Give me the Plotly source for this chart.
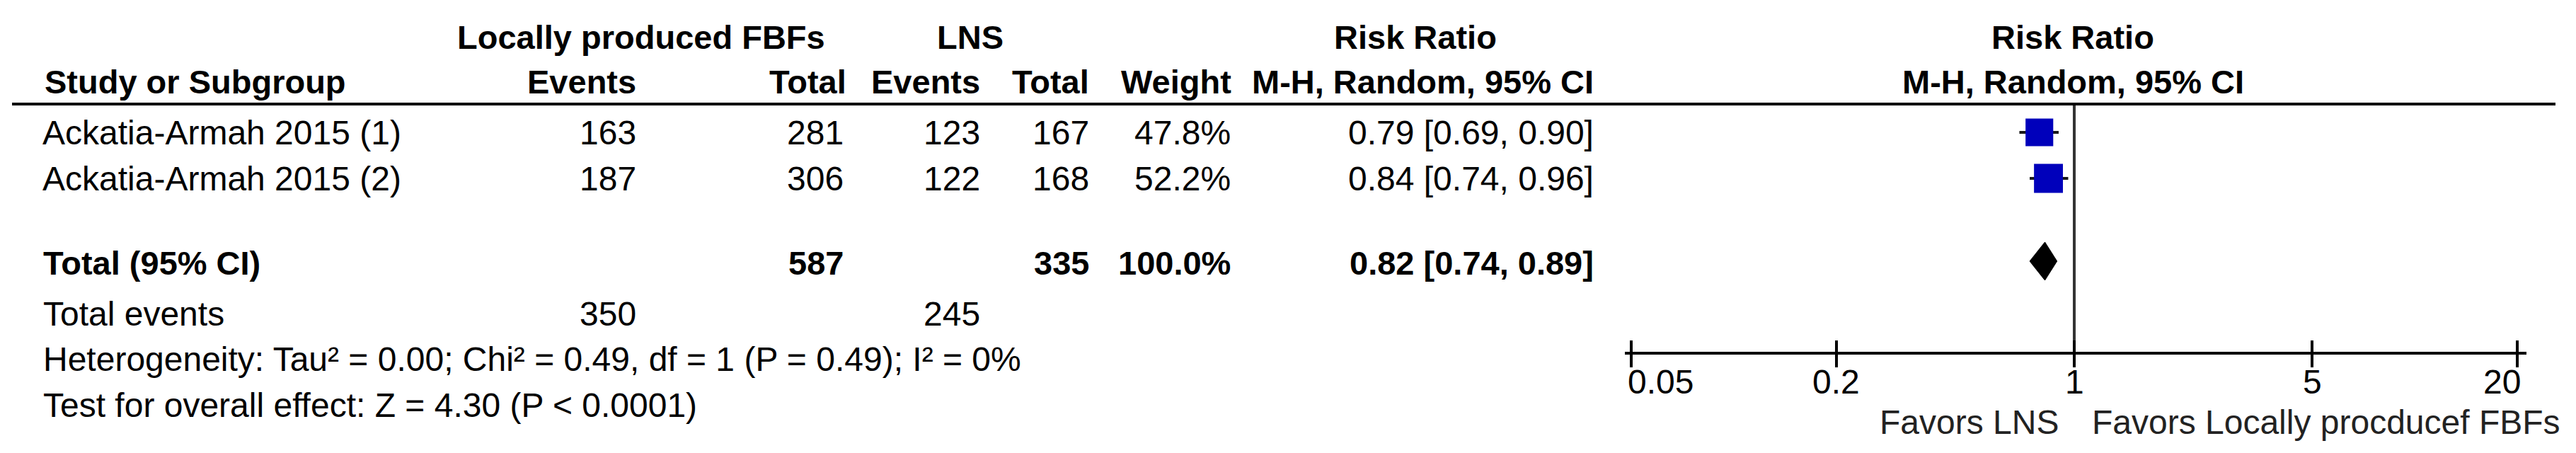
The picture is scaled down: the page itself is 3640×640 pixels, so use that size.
import numpy as np
import plotly.graph_objects as go

# ---------------- data ----------------
studies = ["Ackatia-Armah 2015 (1)", "Ackatia-Armah 2015 (2)"]
exp_events = [163, 187]
exp_total = [281, 306]
ctl_events = [123, 122]
ctl_total = [167, 168]
weights = [47.8, 52.2]
rr = [0.79, 0.84]
ci_low = [0.69, 0.74]
ci_high = [0.90, 0.96]

total_label = "Total (95% CI)"
total_exp = 587
total_ctl = 335
total_weight = 100.0
total_rr = 0.82
total_low = 0.74
total_high = 0.89

events_label = "Total events"
events_exp = 350
events_ctl = 245

heterogeneity = "Heterogeneity: Tau² = 0.00; Chi² = 0.49, df = 1 (P = 0.49); I² = 0%"
overall = "Test for overall effect: Z = 4.30 (P < 0.0001)"

exp_group = "Locally produced FBFs"
ctl_group = "LNS"
col_headers = ["Study or Subgroup", "Events", "Total", "Events", "Total", "Weight", "M-H, Random, 95% CI"]
measure = "Risk Ratio"
method = "M-H, Random, 95% CI"

tick_vals = [0.05, 0.2, 1, 5, 20]
tick_text = ["0.05", "0.2", "1", "5", "20"]
favors_left = "Favors LNS"
favors_right = "Favors Locally procducef FBFs"

# ---------------- layout constants (pixels) ----------------
W, H = 3640, 640
FONT = "Arial, Liberation Sans, sans-serif"
FS = 48      # regular text
FSB = 47     # bold text
TXT = "#000000"

# x positions (px) of table columns
X_STUDY = 58
X_EXP_EV = 901
X_EXP_TOT = 1194
X_CTL_EV = 1387
X_CTL_TOT = 1541
X_WEIGHT = 1741
X_CI = 2254
X_GRP_EXP = 906
X_GRP_CTL = 1371
X_RR_HEAD = 2000
X_PLOT_HEAD = 2929

# y positions (px from top)
Y_HEAD1 = 52
Y_HEAD2 = 115
Y_RULE = 147
Y_ROW0 = 187
ROW_GAP = 65
Y_TOTAL = 371
Y_EVENTS = 443
Y_HET = 507
Y_TEST = 572
Y_AXIS = 499
Y_TICKLBL = 539
Y_FAVORS = 596

# axis pixel geometry
AX_LEFT, AX_RIGHT = 2296, 3570
TICK_LO_PX, TICK_HI_PX = 2305, 3557
px_per_dec = (TICK_HI_PX - TICK_LO_PX) / (np.log10(tick_vals[-1]) - np.log10(tick_vals[0]))
x_range = [np.log10(tick_vals[0]) - (TICK_LO_PX - AX_LEFT) / px_per_dec,
           np.log10(tick_vals[-1]) + (AX_RIGHT - TICK_HI_PX) / px_per_dec]
x_domain = [AX_LEFT / W, AX_RIGHT / W]
axis_pos = (H - Y_AXIS) / H

fig = go.Figure()

row_y = [Y_ROW0 + i * ROW_GAP for i in range(len(studies))]

# vertical line of no effect
fig.add_trace(go.Scatter(x=[1, 1], y=[Y_RULE, Y_AXIS], mode="lines",
                         line=dict(color="#333333", width=4),
                         xaxis="x2", yaxis="y", hoverinfo="skip"))

# CI lines
for i in range(len(studies)):
    fig.add_trace(go.Scatter(x=[ci_low[i], ci_high[i]], y=[row_y[i], row_y[i]],
                             mode="lines", line=dict(color="#1a1a1a", width=4),
                             hoverinfo="skip"))

# squares sized by weight
sizes = [40 * np.sqrt(w / 50.0) for w in weights]
fig.add_trace(go.Scatter(x=rr, y=row_y, mode="markers",
                         marker=dict(symbol="square", size=sizes, color="#0000BB",
                                     opacity=1, line=dict(width=0)),
                         hoverinfo="skip"))

# diamond
DH = 27
yc = Y_TOTAL - 2
fig.add_trace(go.Scatter(x=[total_low, total_rr, total_high, total_rr, total_low],
                         y=[yc, yc - DH, yc, yc + DH, yc],
                         mode="lines", fill="toself", fillcolor="#000000",
                         line=dict(color="#000000", width=1), hoverinfo="skip"))

ann = []


def txt(x, y, s, anchor="left", bold=False, color=TXT, xref="paper", xshift=0):
    ann.append(dict(x=(x / W) if xref == "paper" else x, y=y, xref=xref, yref="y",
                    text=("<b>%s</b>" % s) if bold else s, showarrow=False,
                    xanchor=anchor, yanchor="middle", xshift=xshift,
                    font=dict(family=FONT, size=FSB if bold else FS, color=color)))


# headers
txt(X_GRP_EXP, Y_HEAD1, exp_group, "center", True)
txt(X_GRP_CTL, Y_HEAD1, ctl_group, "center", True)
txt(X_RR_HEAD, Y_HEAD1, measure, "center", True)
txt(X_PLOT_HEAD, Y_HEAD1, measure, "center", True)
txt(X_STUDY + 3, Y_HEAD2, col_headers[0], "left", True)
for xx, h in zip([X_EXP_EV, X_EXP_TOT + 4, X_CTL_EV, X_CTL_TOT, X_WEIGHT + 1, X_CI],
                 col_headers[1:]):
    txt(xx, Y_HEAD2, h, "right", True)
txt(X_PLOT_HEAD, Y_HEAD2, method, "center", True)

# study rows
for i, s in enumerate(studies):
    y = row_y[i]
    txt(X_STUDY, y, s, "left")
    txt(X_EXP_EV, y, str(exp_events[i]), "right")
    txt(X_EXP_TOT, y, str(exp_total[i]), "right")
    txt(X_CTL_EV, y, str(ctl_events[i]), "right")
    txt(X_CTL_TOT, y, str(ctl_total[i]), "right")
    txt(X_WEIGHT, y, "%.1f%%" % weights[i], "right")
    txt(X_CI, y, "%.2f [%.2f, %.2f]" % (rr[i], ci_low[i], ci_high[i]), "right")

# total row
txt(X_STUDY + 1, Y_TOTAL, total_label, "left", True)
txt(X_EXP_TOT, Y_TOTAL, str(total_exp), "right", True)
txt(X_CTL_TOT, Y_TOTAL, str(total_ctl), "right", True)
txt(X_WEIGHT, Y_TOTAL, "%.1f%%" % total_weight, "right", True)
txt(X_CI, Y_TOTAL, "%.2f [%.2f, %.2f]" % (total_rr, total_low, total_high), "right", True)

# total events
txt(X_STUDY + 1, Y_EVENTS, events_label, "left")
txt(X_EXP_EV, Y_EVENTS, str(events_exp), "right")
txt(X_CTL_EV, Y_EVENTS, str(events_ctl), "right")

# stats
txt(X_STUDY + 1, Y_HET, heterogeneity, "left")
txt(X_STUDY + 1, Y_TEST, overall, "left")

# tick labels (end labels aligned inward, as in the reference)
for k, (v, t) in enumerate(zip(tick_vals, tick_text)):
    if k == 0:
        a, sh = "left", -7
    elif k == len(tick_vals) - 1:
        a, sh = "right", 7
    else:
        a, sh = "center", 0
    txt(np.log10(v), Y_TICKLBL, t, a, xref="x", xshift=sh)

# favors labels
txt(0, Y_FAVORS, favors_left, "right", xref="x", xshift=-20, color="#222222")
txt(0, Y_FAVORS, favors_right, "left", xref="x", xshift=23, color="#222222")

# header rule
shapes = [dict(type="line", xref="paper", yref="y", x0=17 / W, x1=3611 / W,
               y0=Y_RULE, y1=Y_RULE, line=dict(color="#000000", width=4))]

axis_common = dict(type="log", domain=x_domain, range=x_range, anchor="free",
                   position=axis_pos, tickvals=tick_vals, showticklabels=False,
                   showgrid=False, zeroline=False, tickwidth=4, ticklen=18,
                   tickcolor="#000000", fixedrange=True)

fig.update_layout(
    width=W, height=H,
    margin=dict(l=0, r=0, t=0, b=0, autoexpand=False),
    paper_bgcolor="white", plot_bgcolor="white",
    showlegend=False,
    xaxis=dict(**axis_common, ticks="outside", showline=True, linewidth=4,
               linecolor="#000000"),
    xaxis2=dict(**axis_common, ticks="inside", showline=False, overlaying="x"),
    yaxis=dict(domain=[0, 1], range=[H, 0], visible=False, fixedrange=True),
    annotations=ann,
    shapes=shapes,
)

fig.write_html("out.html", config={"displayModeBar": False},
               post_script="document.body.style.margin='0';")
